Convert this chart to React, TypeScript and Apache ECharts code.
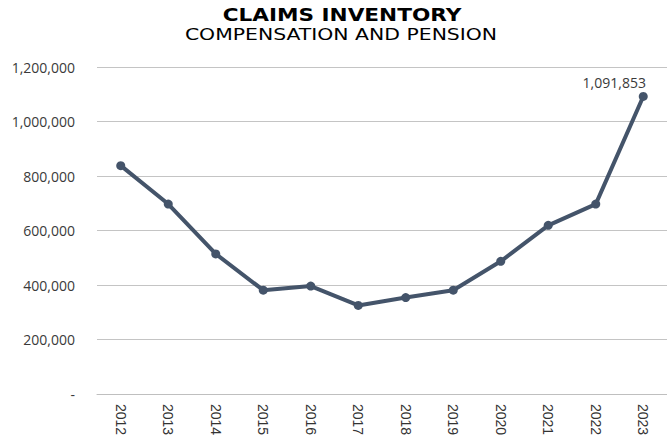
import React, { useEffect, useRef } from "react";
import * as echarts from "echarts";

const years = ["2012", "2013", "2014", "2015", "2016", "2017", "2018", "2019", "2020", "2021", "2022", "2023"];
const inventory = [838000, 697000, 514000, 381000, 396000, 325000, 354000, 381000, 487000, 619000, 697000, 1091853];
const titleText = "CLAIMS INVENTORY";
const subtitleText = "COMPENSATION AND PENSION";

export default function App() {
  const ref = useRef<HTMLDivElement>(null);
  useEffect(() => {
    if (!ref.current) return;
    const chart = echarts.init(ref.current, null, { renderer: "svg" });
    const last = inventory.length - 1;
    chart.setOption({
      animation: false,
      backgroundColor: "#ffffff",
      graphic: [
        {
          type: "text",
          x: 342,
          y: 15,
          scaleX: 1.2,
          style: {
            text: titleText,
            font: "bold 18px 'DejaVu Sans'",
            fill: "#000000",
            textAlign: "center",
            textVerticalAlign: "middle",
          },
        },
        {
          type: "text",
          x: 341,
          y: 35,
          scaleX: 1.36,
          style: {
            text: subtitleText,
            font: "normal 15px 'DejaVu Sans'",
            fill: "#000000",
            textAlign: "center",
            textVerticalAlign: "middle",
          },
        },
      ],
      grid: { left: 97, right: -6, top: 67, bottom: 45, containLabel: false },
      xAxis: {
        type: "category",
        data: years,
        boundaryGap: true,
        axisLine: { show: true, lineStyle: { color: "#BFBFBF", width: 1 } },
        axisTick: { show: false },
        axisLabel: {
          rotate: -90,
          margin: 10,
          fontFamily: "Liberation Sans",
          fontSize: 14,
          color: "#333333",
        },
      },
      yAxis: {
        type: "value",
        min: 0,
        max: 1200000,
        interval: 200000,
        axisLine: { show: false },
        axisTick: { show: false },
        splitLine: { lineStyle: { color: "#C4C4C4", width: 1.2 } },
        axisLabel: {
          margin: 22,
          fontFamily: "Open Sans",
          fontSize: 14,
          color: "#3A3A3A",
          formatter: (v: number) => (v === 0 ? "-" : v.toLocaleString("en-US")),
        },
      },
      series: [
        {
          type: "line",
          data: inventory.map((v, i) =>
            i === last
              ? {
                  value: v,
                  label: {
                    show: true,
                    position: "top",
                    offset: [-29, 3],
                    fontFamily: "Open Sans",
                    fontSize: 14,
                    color: "#3A3A3A",
                    formatter: (p: any) => Number(p.value).toLocaleString("en-US"),
                  },
                }
              : v
          ),
          symbol: "circle",
          symbolSize: 9,
          lineStyle: { color: "#44546A", width: 4 },
          itemStyle: { color: "#44546A" },
        },
      ],
    });
    return () => chart.dispose();
  }, []);
  return <div ref={ref} style={{ width: 667, height: 439, position: "absolute", left: 0, top: 0 }} />;
}
